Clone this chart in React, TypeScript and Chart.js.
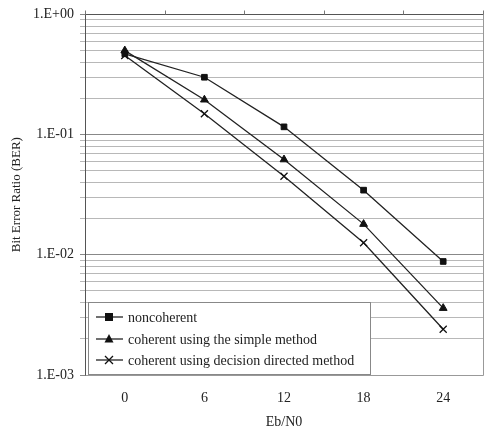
import React, { useEffect, useRef } from "react";
import { Chart, registerables } from "chart.js";

Chart.register(...registerables);

const categories = ["0", "6", "12", "18", "24"];
const noncoherent = [0.47, 0.3, 0.116, 0.0345, 0.0088];
const coherentSimple = [0.5, 0.195, 0.062, 0.018, 0.0036];
const coherentDecision = [0.455, 0.149, 0.045, 0.0126, 0.0024];
const seriesNames = [
  "noncoherent",
  "coherent using the simple method",
  "coherent using decision directed method",
];
const decadeLabels: Record<string, string> = {
  "1": "1.E+00",
  "0.1": "1.E-01",
  "0.01": "1.E-02",
  "0.001": "1.E-03",
};

const FONT = "'Liberation Serif', 'Times New Roman', serif";

const legendPlugin = {
  id: "insideLegend",
  afterDatasetsDraw(chart: any) {
    const { ctx, chartArea } = chart;
    const left = chartArea.left + 3;
    const right = 370;
    const bottom = chartArea.bottom - 1;
    const top = bottom - 72;
    ctx.save();
    ctx.fillStyle = "#fff";
    ctx.fillRect(left, top, right - left, bottom - top);
    ctx.strokeStyle = "#888";
    ctx.lineWidth = 1;
    ctx.strokeRect(left + 0.5, top + 0.5, right - left, bottom - top);
    const rows = [top + 15, top + 37, top + 58];
    chart.data.datasets.forEach((ds: any, i: number) => {
      const y = rows[i];
      ctx.strokeStyle = "#222";
      ctx.lineWidth = 1.3;
      ctx.beginPath();
      ctx.moveTo(left + 8, y);
      ctx.lineTo(left + 35, y);
      ctx.stroke();
      ctx.fillStyle = "#111";
      ctx.strokeStyle = "#111";
      const cx = left + 21;
      if (ds.pointStyle === "rect") {
        ctx.fillRect(cx - 4, y - 4, 8, 8);
      } else if (ds.pointStyle === "triangle") {
        ctx.beginPath();
        ctx.moveTo(cx, y - 5);
        ctx.lineTo(cx + 4.5, y + 3.5);
        ctx.lineTo(cx - 4.5, y + 3.5);
        ctx.closePath();
        ctx.fill();
      } else {
        ctx.beginPath();
        ctx.moveTo(cx - 4, y - 4);
        ctx.lineTo(cx + 4, y + 4);
        ctx.moveTo(cx + 4, y - 4);
        ctx.lineTo(cx - 4, y + 4);
        ctx.stroke();
      }
      ctx.fillStyle = "#222";
      ctx.font = `14px ${FONT}`;
      ctx.textBaseline = "middle";
      ctx.textAlign = "left";
      ctx.fillText(ds.label, left + 40, y + 1);
    });
    ctx.restore();
  },
};

const borderPlugin = {
  id: "plotBorder",
  afterDatasetsDraw(chart: any) {
    const { ctx, chartArea } = chart;
    const l = Math.round(chartArea.left) + 0.5;
    const r = Math.round(chartArea.right) + 0.5;
    const t = Math.round(chartArea.top) + 0.5;
    const b = Math.round(chartArea.bottom) + 0.5;
    ctx.save();
    ctx.lineWidth = 1;
    ctx.strokeStyle = "#999";
    ctx.beginPath();
    ctx.moveTo(r, t);
    ctx.lineTo(r, b);
    ctx.lineTo(l, b);
    ctx.stroke();
    ctx.strokeStyle = "#555";
    ctx.beginPath();
    ctx.moveTo(l, b);
    ctx.lineTo(l, t);
    ctx.lineTo(r, t);
    ctx.stroke();
    const n = chart.data.labels.length;
    const step = (chartArea.right - chartArea.left) / n;
    ctx.strokeStyle = "#777";
    ctx.beginPath();
    for (let i = 0; i <= n; i++) {
      const xx = Math.round(chartArea.left + step * i) + 0.5;
      ctx.moveTo(xx, t);
      ctx.lineTo(xx, t - 4);
    }
    ctx.stroke();
    ctx.restore();
  },
};

export default function App() {
  const ref = useRef<HTMLCanvasElement>(null);
  useEffect(() => {
    if (!ref.current) return;
    const mk = (label: string, data: number[], style: string, radius: number) => ({
      label,
      data,
      pointStyle: style,
      pointRadius: radius,
      pointBackgroundColor: "#111",
      pointBorderColor: "#111",
      pointBorderWidth: style === "crossRot" ? 1.3 : 1,
      borderColor: "#222",
      borderWidth: 1.3,
      fill: false,
      tension: 0,
    });
    const chart = new Chart(ref.current, {
      type: "line",
      data: {
        labels: categories,
        datasets: [
          mk(seriesNames[0], noncoherent, "rect", 4),
          mk(seriesNames[1], coherentSimple, "triangle", 4.5),
          mk(seriesNames[2], coherentDecision, "crossRot", 5),
        ],
      },
      options: {
        animation: false,
        responsive: true,
        maintainAspectRatio: false,
        layout: { padding: { top: 13, right: 7, left: 0, bottom: 0 } },
        plugins: { legend: { display: false }, tooltip: { enabled: false } },
        scales: {
          x: {
            type: "category",
            offset: true,
            grid: { display: false, drawTicks: false },
            border: { display: false },
            ticks: {
              color: "#222",
              font: { family: FONT, size: 14 },
              padding: 15,
            },
            title: {
              display: true,
              text: "Eb/N0",
              color: "#222",
              font: { family: FONT, size: 14 },
              padding: { top: 10 },
            },
            afterFit(scale: any) {
              scale.height = 60;
            },
          },
          y: {
            type: "logarithmic",
            min: 0.001,
            max: 1,
            afterBuildTicks(scale: any) {
              const ticks: any[] = [];
              for (let e = -3; e <= 0; e++) {
                for (let m = 1; m <= 9; m++) {
                  const v = m * Math.pow(10, e);
                  if (v > 1.0000001) break;
                  ticks.push({ value: v, major: m === 1 });
                }
              }
              scale.ticks = ticks;
            },
            grid: {
              color: (c: any) => (c.tick && c.tick.major ? "#888" : "#b8b8b8"),
              lineWidth: 1,
              drawTicks: true,
              tickLength: 5,
            },
            border: { display: false },
            ticks: {
              autoSkip: false,
              color: "#222",
              font: { family: FONT, size: 14 },
              padding: 6,
              callback: (v: any) => {
                const key = String(Number(Number(v).toPrecision(3)));
                return decadeLabels[key] ?? "";
              },
            },
            title: {
              display: true,
              text: "Bit Error Ratio (BER)",
              color: "#222",
              font: { family: FONT, size: 13 },
              padding: { top: 9, bottom: 4 },
            },
            afterFit(scale: any) {
              scale.width = 85;
            },
          },
        },
      },
      plugins: [borderPlugin, legendPlugin],
    } as any);
    return () => chart.destroy();
  }, []);
  return (
    <div style={{ position: "fixed", left: 0, top: 0, width: 490, height: 435, background: "#fff" }}>
      <canvas ref={ref} />
    </div>
  );
}
